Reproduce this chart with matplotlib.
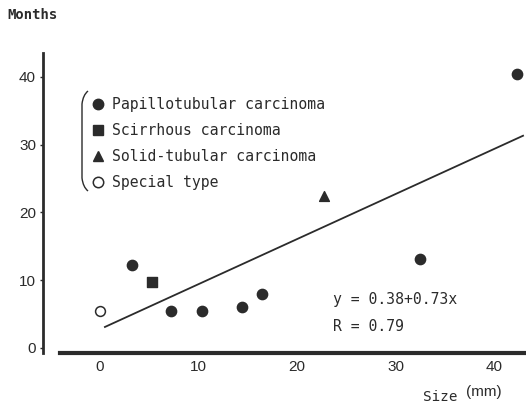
import numpy as np
import matplotlib.pyplot as plt
from matplotlib.lines import Line2D
from matplotlib.path import Path
from matplotlib.patches import PathPatch

# values
papillo_x = [3.2, 7.2, 10.3, 14.4, 16.4, 32.5, 42.3]
papillo_y = [12.3, 5.4, 5.5, 6.1, 8.0, 13.1, 40.4]
scirrhous_x = [5.3]
scirrhous_y = [9.8]
solid_x = [22.7]
solid_y = [22.4]
special_x = [0.0]
special_y = [5.4]

fit_x = [0.5, 42.9]
fit_y = [3.1, 31.3]

x_ticks = [0, 10, 20, 30, 40]
y_ticks = [0, 10, 20, 30, 40]
labels = ['Papillotubular carcinoma', 'Scirrhous carcinoma',
          'Solid-tubular carcinoma', 'Special type']

W, H = 526, 405
ink = '#2b2b2b'
mono = 'DejaVu Sans Mono'

fig = plt.figure(figsize=(W / 100, H / 100), dpi=100)
# axes box in pixels: left 43, right 526, top 53, bottom 353
ax = fig.add_axes([43 / W, 1 - 353 / H, (526 - 43) / W, (353 - 53) / H])
ax.set_xlim(-5.78, 43.2)
ax.set_ylim(-0.74, 43.5)

ax.plot(fit_x, fit_y, color=ink, lw=1.3)
ax.scatter(papillo_x, papillo_y, s=55, marker='o', color=ink, zorder=3)
ax.scatter(scirrhous_x, scirrhous_y, s=45, marker='s', color=ink, zorder=3)
ax.scatter(solid_x, solid_y, s=50, marker='^', color=ink, zorder=3)
ax.scatter(special_x, special_y, s=50, marker='o', facecolor='white',
           edgecolor=ink, linewidth=1.1, zorder=3)

for s in ['top', 'right']:
    ax.spines[s].set_visible(False)
ax.spines['left'].set_linewidth(2)
ax.spines['left'].set_color(ink)
ax.spines['bottom'].set_linewidth(3)
ax.spines['bottom'].set_color(ink)
ax.spines['bottom'].set_bounds(-4.05, 43.2)

ax.set_xticks(x_ticks)
ax.set_yticks(y_ticks)
ax.tick_params(axis='x', length=0, pad=5, labelsize=11, colors=ink)
ax.tick_params(axis='y', length=2, width=1, pad=3, labelsize=11, colors=ink)
for lab in ax.get_xticklabels() + ax.get_yticklabels():
    lab.set_family('Liberation Sans')

handles = [
    Line2D([], [], ls='', marker='o', ms=7.5, color=ink),
    Line2D([], [], ls='', marker='s', ms=6.5, color=ink),
    Line2D([], [], ls='', marker='^', ms=6.5, color=ink),
    Line2D([], [], ls='', marker='o', ms=7.5, mfc='white', mec=ink, mew=1.1),
]
leg = ax.legend(handles, labels, loc='upper left', bbox_to_anchor=(0.089, 0.874),
                frameon=False, handlelength=0.8, handletextpad=0.55,
                labelspacing=0.75, borderaxespad=0,
                prop={'family': mono, 'size': 10.6})
for t in leg.get_texts():
    t.set_color(ink)

# bracket to the left of the legend, pixel coords -> figure fraction
bx = [(88, 91), (83, 95), (82, 104), (82, 141),
      (82, 178), (83, 187), (88, 191)]
codes = [Path.MOVETO, Path.CURVE3, Path.CURVE3, Path.LINETO,
         Path.LINETO, Path.CURVE3, Path.CURVE3]
verts = [(px / W, 1 - py / H) for px, py in bx]
bracket = PathPatch(Path(verts, codes), transform=fig.transFigure,
                    fill=False, lw=1.0, ec=ink)
fig.add_artist(bracket)

ax.text(23.6, 7.1, 'y = 0.38+0.73x', family=mono, fontsize=10.6,
        color=ink, va='center')
ax.text(23.6, 3.1, 'R = 0.79', family=mono, fontsize=10.6,
        color=ink, va='center')

fig.text(7 / W, 1 - 15 / H, 'Months', family=mono, fontsize=10,
         fontweight='bold', color=ink, va='center')
fig.text(423 / W, 1 - 397 / H, 'Size', family=mono, fontsize=10.3,
         color=ink, va='center')
fig.text(466 / W, 1 - 392 / H, '(mm)', family='Liberation Sans', fontsize=11,
         color=ink, va='center')

fig.savefig('out.png', dpi=100)
